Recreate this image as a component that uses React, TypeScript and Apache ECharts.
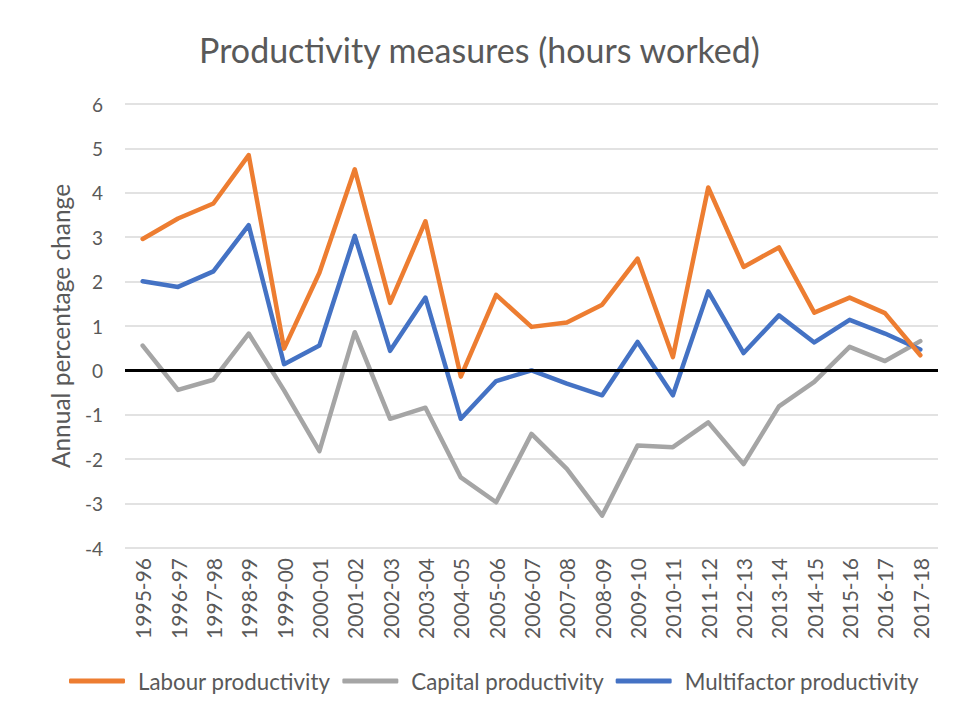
import React, { useEffect, useRef } from "react";
import * as echarts from "echarts";

const categories = [
  "1995-96", "1996-97", "1997-98", "1998-99", "1999-00", "2000-01", "2001-02", "2002-03",
  "2003-04", "2004-05", "2005-06", "2006-07", "2007-08", "2008-09", "2009-10", "2010-11",
  "2011-12", "2012-13", "2013-14", "2014-15", "2015-16", "2016-17", "2017-18",
];

const labourProductivity = [
  2.96, 3.42, 3.76, 4.85, 0.49, 2.2, 4.53, 1.52, 3.36, -0.14, 1.7, 0.98,
  1.08, 1.48, 2.52, 0.3, 4.12, 2.33, 2.77, 1.3, 1.64, 1.29, 0.34,
];

const capitalProductivity = [
  0.56, -0.44, -0.21, 0.83, -0.45, -1.82, 0.86, -1.09, -0.84, -2.41, -2.97, -1.43,
  -2.22, -3.27, -1.69, -1.73, -1.17, -2.11, -0.81, -0.26, 0.53, 0.21, 0.66,
];

const multifactorProductivity = [
  2.01, 1.88, 2.23, 3.27, 0.14, 0.56, 3.03, 0.44, 1.64, -1.09, -0.24, 0.0,
  -0.3, -0.56, 0.64, -0.56, 1.78, 0.39, 1.24, 0.63, 1.14, 0.83, 0.47,
];

const FONT = "Lato, 'Open Sans', sans-serif";
const TEXT = "#595959";

export default function App() {
  const ref = useRef<HTMLDivElement>(null);
  useEffect(() => {
    if (!ref.current) return;
    const chart = echarts.init(ref.current, undefined, { renderer: "svg" });
    const mkSeries = (name: string, data: number[], color: string, extra: any = {}) => ({
      name,
      type: "line",
      data,
      symbol: "none",
      color,
      lineStyle: { color, width: 4.5, cap: "round", join: "round" },
      ...extra,
    });
    chart.setOption({
      animation: false,
      textStyle: { fontFamily: FONT },
      title: {
        text: "Productivity measures (hours worked)",
        left: "center",
        top: 19,
        textStyle: { fontFamily: FONT, fontSize: 34, fontWeight: "normal", color: TEXT },
      },
      grid: { left: 117, right: 13, top: 96, bottom: 158, containLabel: false },
      legend: {
        bottom: 9,
        left: 56,
        icon: "roundRect",
        itemWidth: 56,
        itemHeight: 5,
        itemGap: 12,
        textStyle: { fontFamily: FONT, fontSize: 22.3, color: TEXT, padding: [0, 0, 0, 8] },
        data: ["Labour productivity", "Capital productivity", "Multifactor productivity"],
      },
      xAxis: {
        type: "category",
        data: categories,
        boundaryGap: true,
        axisLine: { show: false },
        axisTick: { show: false },
        axisLabel: {
          rotate: 90,
          interval: 0,
          margin: 10,
          fontFamily: FONT,
          fontSize: 21,
          color: TEXT,
        },
      },
      yAxis: {
        type: "value",
        min: -4,
        max: 6,
        interval: 1,
        name: "Annual percentage change",
        nameLocation: "middle",
        nameGap: 52,
        nameTextStyle: { fontFamily: FONT, fontSize: 24.5, color: TEXT },
        axisLine: { show: false },
        axisTick: { show: false },
        axisLabel: { margin: 22, fontFamily: FONT, fontSize: 19, color: TEXT },
        splitLine: { lineStyle: { color: "#D9D9D9", width: 1.5 } },
      },
      series: [
        mkSeries("Labour productivity", labourProductivity, "#ED7D31", {
          markLine: {
            silent: true,
            symbol: "none",
            label: { show: false },
            lineStyle: { color: "#000000", width: 3, type: "solid" },
            data: [{ yAxis: 0 }],
          },
          z: 3,
        }),
        mkSeries("Capital productivity", capitalProductivity, "#A5A5A5", { z: 1 }),
        mkSeries("Multifactor productivity", multifactorProductivity, "#4472C4", { z: 2 }),
      ],
    });
    return () => chart.dispose();
  }, []);
  return <div ref={ref} style={{ width: 943, height: 698 }} />;
}
